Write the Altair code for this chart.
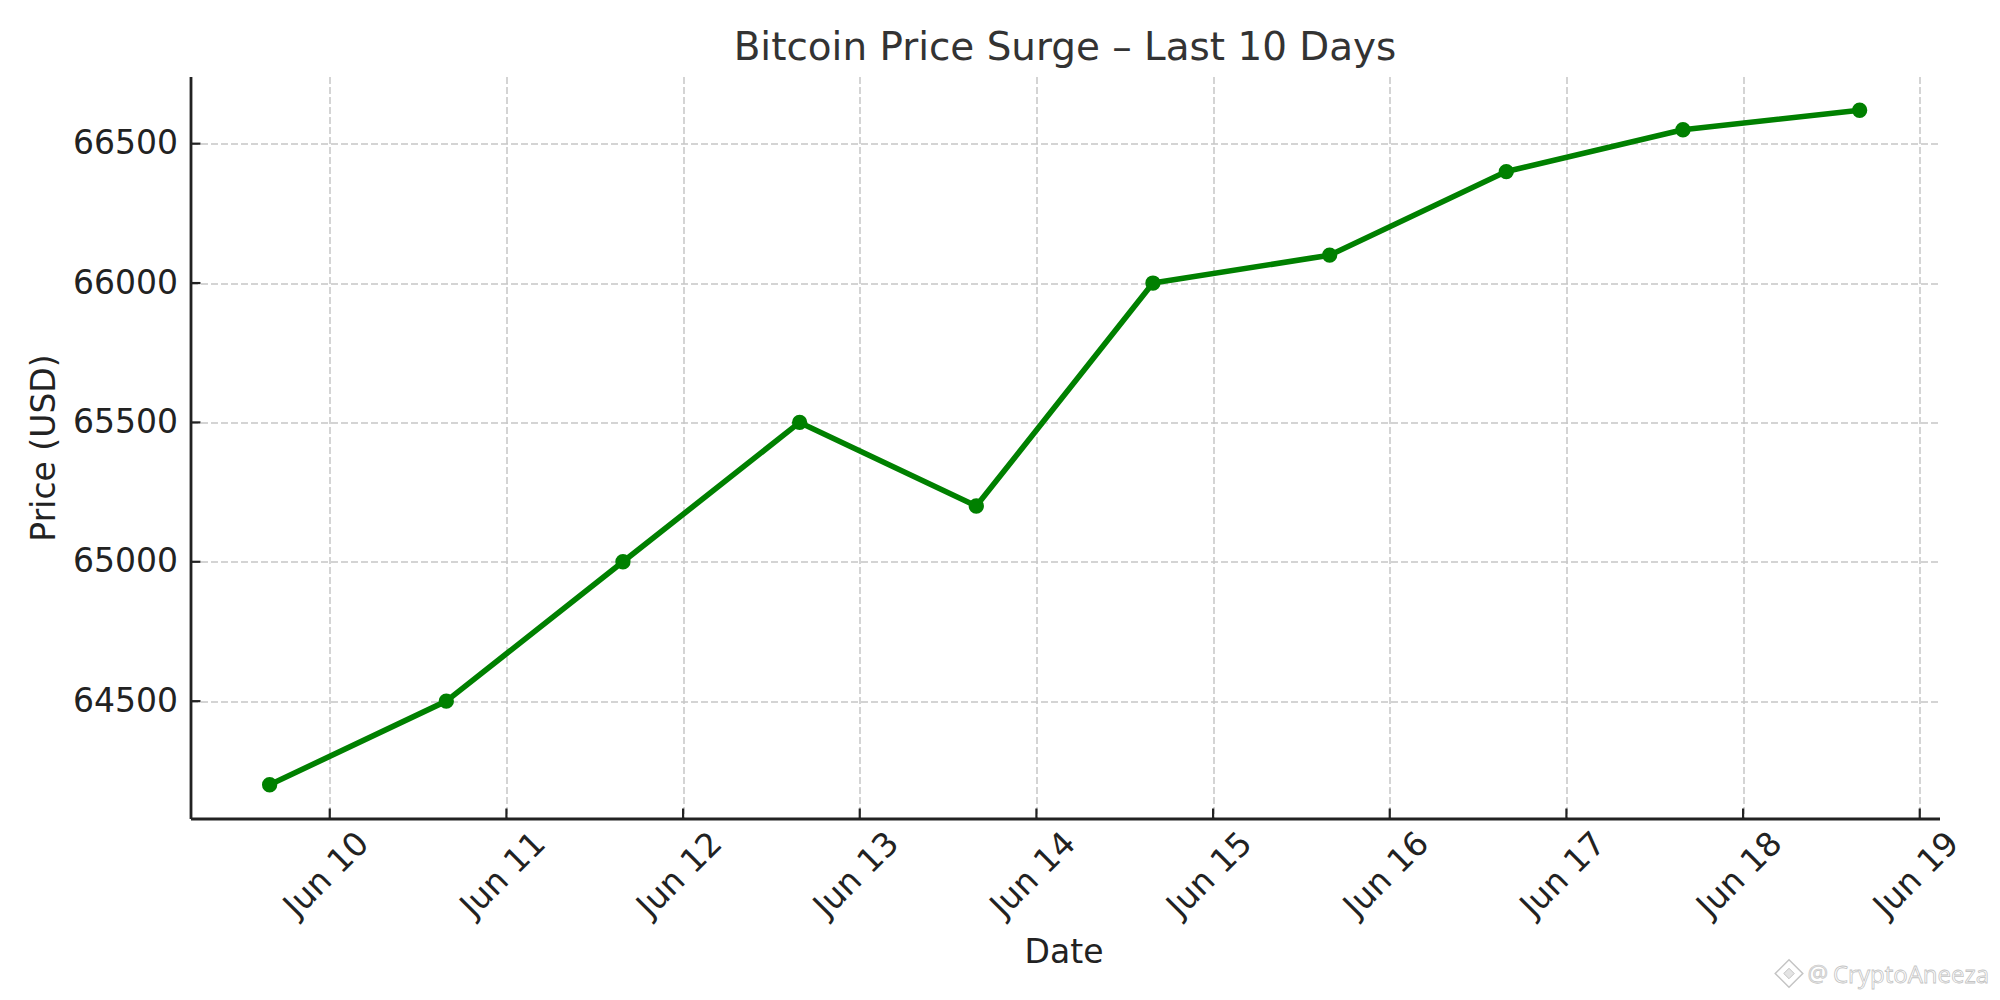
import altair as alt
import pandas as pd

dates = ["2024-06-09T15:50:00Z", "2024-06-10T15:50:00Z", "2024-06-11T15:50:00Z", "2024-06-12T15:50:00Z",
         "2024-06-13T15:50:00Z", "2024-06-14T15:50:00Z", "2024-06-15T15:50:00Z", "2024-06-16T15:50:00Z",
         "2024-06-17T15:50:00Z", "2024-06-18T15:50:00Z"]
prices = [64200, 64500, 65000, 65500, 65200, 66000, 66100, 66400, 66550, 66620]
x_ticks = ["2024-06-%02dT00:00:00Z" % d for d in range(10, 20)]
y_ticks = [64500, 65000, 65500, 66000, 66500]
x_domain = ["2024-06-09T05:05:00Z", "2024-06-19T02:41:00Z"]
y_domain = [64079, 66741]

W, H = 1749, 742
INK = "#222222"
GRID = "#c6c6c6"

df = pd.DataFrame({"Date": dates, "Price": prices})
xticks_df = pd.DataFrame({"Date": x_ticks})
yticks_df = pd.DataFrame({"Price": y_ticks})

x_scale = alt.Scale(type="utc", domain=x_domain)
y_scale = alt.Scale(domain=y_domain, zero=False, nice=False)

x_axis = alt.Axis(
    values=x_ticks, labelExpr="utcFormat(datum.value, '%b %d')", title="Date",
    labelAngle=315, labelAlign="center", labelBaseline="middle", labelPadding=56, labelOffset=-3.5,
    labelFontSize=33, labelFont="DejaVu Sans", labelColor=INK, titleFontSize=33, titleFont="DejaVu Sans",
    titleFontWeight="normal", titleColor=INK, titleBaseline="middle", titleY=133.5, titleX=W / 2 - 1.5,
    tickSize=0, labelOverlap=False,
    grid=True, gridColor=GRID, gridDash=[7, 3], gridWidth=1.5,
    domain=True, domainColor=INK, domainWidth=2.8, labelFlush=False)
y_axis = alt.Axis(
    values=y_ticks, format="d", title="Price (USD)", labelPadding=13,
    labelFontSize=33, labelFont="DejaVu Sans", labelColor=INK, titleFontSize=33, titleFont="DejaVu Sans",
    titleFontWeight="normal", titleColor=INK, titleBaseline="middle", titleX=-146, tickSize=0,
    grid=True, gridColor=GRID, gridDash=[7, 3], gridWidth=1.5,
    domain=True, domainColor=INK, domainWidth=2.8)

line = alt.Chart(df).mark_line(color="green", strokeWidth=5.6, strokeJoin="round").encode(
    x=alt.X("Date:T", scale=x_scale, axis=x_axis),
    y=alt.Y("Price:Q", scale=y_scale, axis=y_axis),
)
points = alt.Chart(df).mark_point(filled=True, color="green", size=235, opacity=1).encode(
    x=alt.X("Date:T", scale=x_scale, axis=x_axis),
    y=alt.Y("Price:Q", scale=y_scale, axis=y_axis),
)
xt = alt.Chart(xticks_df).mark_rule(color=INK, strokeWidth=2.2).encode(
    x=alt.X("Date:T", scale=x_scale, axis=x_axis),
    y=alt.value(H), y2=alt.value(H - 10),
)
yt = alt.Chart(yticks_df).mark_rule(color=INK, strokeWidth=2.2).encode(
    y=alt.Y("Price:Q", scale=y_scale, axis=y_axis),
    x=alt.value(0), x2=alt.value(10),
)

WM = "#c4c4c4"
wm_name = alt.Chart(pd.DataFrame({"t": ["CryptoAneeza"]})).mark_text(
    font="Open Sans", fontSize=24, fill="white", stroke=WM, strokeWidth=0.8, align="left", baseline="middle"
).encode(x=alt.value(1642.5), y=alt.value(899), text="t:N")
wm_at = alt.Chart(pd.DataFrame({"t": ["@"]})).mark_text(
    font="Open Sans", fontSize=23, fill="#e4e4e4", stroke=WM, strokeWidth=0.6, align="left", baseline="middle"
).encode(x=alt.value(1617), y=alt.value(898), text="t:N")
wm_logo = alt.Chart(pd.DataFrame({"t": ["a"]})).mark_point(
    shape="diamond", filled=True, fill="white", stroke=WM, strokeWidth=1.5, size=760, opacity=1
).encode(x=alt.value(1598.5), y=alt.value(897))
wm_logo2 = alt.Chart(pd.DataFrame({"t": ["a"]})).mark_point(
    shape="diamond", filled=True, fill="#e4e4e4", stroke=WM, strokeWidth=1, size=110, opacity=1
).encode(x=alt.value(1598.5), y=alt.value(897))

chart = alt.layer(line, points, xt, yt, wm_logo, wm_logo2, wm_at, wm_name).properties(
    width=W, height=H,
    background="white",
    title=alt.TitleParams("Bitcoin Price Surge – Last 10 Days", font="DejaVu Sans", fontSize=38.9,
                          fontWeight="normal", color="#333333", anchor="middle", offset=9),
    autosize=alt.AutoSizeParams(type="none"),
    padding={"left": 182.5, "top": 68.5, "right": 52.5, "bottom": 175.5},
).configure_view(stroke=None)

chart.save("out.html", embed_options={"renderer": "svg", "actions": False})
